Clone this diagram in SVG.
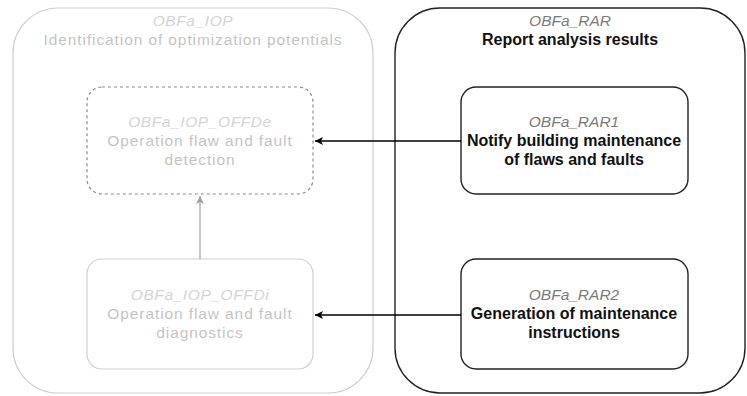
<svg xmlns="http://www.w3.org/2000/svg" width="747" height="396" viewBox="0 0 747 396">
<style>
text{font-family:"Liberation Sans",Arial,sans-serif;text-anchor:middle;font-size:15.5px}
.id{font-style:italic}
.gid{fill:#d4d4d4;letter-spacing:0.6px}
.gt{fill:#c4c4c4;letter-spacing:0.9px}
.bid{fill:#7a7a7a}
.bt{fill:#111;font-weight:bold;font-size:16px}
.gbox{fill:#fff;stroke:#cfcfcf;stroke-width:1.2}
.bbox{fill:#fff;stroke:#222;stroke-width:1.4}
</style>
<defs>
<marker id="ab" markerWidth="10" markerHeight="10" refX="9" refY="5" orient="auto" markerUnits="userSpaceOnUse">
<path d="M1,1 L9,5 L1,9 L3,5 Z" fill="#000"/>
</marker>
<marker id="ag" markerWidth="10" markerHeight="10" refX="9" refY="5" orient="auto" markerUnits="userSpaceOnUse">
<path d="M1,1 L9,5 L1,9 L3,5 Z" fill="#a0a0a0"/>
</marker>
</defs>
<rect width="747" height="396" fill="#fff"/>
<g id="IOP">
<rect class="gbox" x="13" y="8" width="360" height="385" rx="45"/>
<text class="id gid" x="193" y="26">OBFa_IOP</text>
<text class="gt" x="193" y="45">Identification of optimization potentials</text>
</g>
<g id="RAR">
<rect class="bbox" x="395" y="8" width="350" height="385" rx="45"/>
<text class="id bid" x="570" y="26">OBFa_RAR</text>
<text class="bt" x="570" y="45">Report analysis results</text>
</g>
<g id="IOP_OFFDe">
<rect x="87" y="87" width="226" height="107" rx="15" fill="#fff" stroke="#8a8a8a" stroke-width="1.2" stroke-dasharray="3 3"/>
<text class="id gid" x="200" y="127">OBFa_IOP_OFFDe</text>
<text class="gt" x="200" y="146">Operation flaw and fault</text>
<text class="gt" x="200" y="165">detection</text>
</g>
<g id="IOP_OFFDi">
<rect class="gbox" x="87" y="259" width="226" height="110" rx="15"/>
<text class="id gid" x="200" y="300">OBFa_IOP_OFFDi</text>
<text class="gt" x="200" y="319">Operation flaw and fault</text>
<text class="gt" x="200" y="338">diagnostics</text>
</g>
<g id="RAR1">
<rect class="bbox" x="461" y="87" width="227" height="107" rx="15"/>
<text class="id bid" x="574" y="127">OBFa_RAR1</text>
<text class="bt" x="574" y="146">Notify building maintenance</text>
<text class="bt" x="574" y="165">of flaws and faults</text>
</g>
<g id="RAR2">
<rect class="bbox" x="461" y="259" width="227" height="110" rx="15"/>
<text class="id bid" x="574" y="300">OBFa_RAR2</text>
<text class="bt" x="574" y="319">Generation of maintenance</text>
<text class="bt" x="574" y="338">instructions</text>
</g>
<g id="connectors">
<line x1="461" y1="141" x2="315" y2="141" stroke="#000" stroke-width="1.3" marker-end="url(#ab)"/>
<line x1="461" y1="315" x2="315" y2="315" stroke="#000" stroke-width="1.3" marker-end="url(#ab)"/>
<line x1="200" y1="259" x2="200" y2="196" stroke="#a0a0a0" stroke-width="1.2" marker-end="url(#ag)"/>
</g>
</svg>
